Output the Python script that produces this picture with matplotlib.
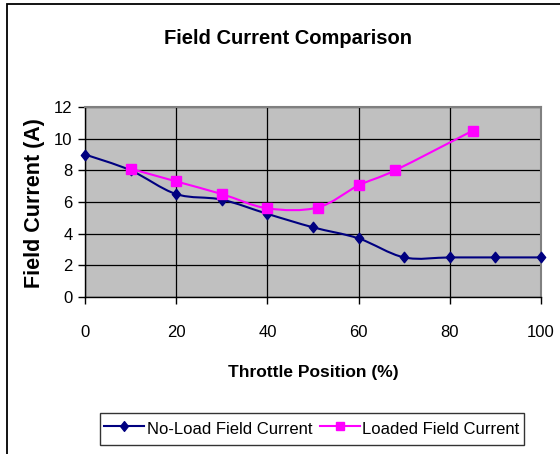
import numpy as np
import matplotlib
matplotlib.use("Agg")
import matplotlib.pyplot as plt
from matplotlib.path import Path
from matplotlib.patches import PathPatch, Rectangle
from matplotlib.lines import Line2D

plt.rcParams['font.family'] = ['Liberation Sans', 'DejaVu Sans']

# data
noload_x = [0, 10, 20, 30, 40, 50, 60, 70, 80, 90, 100]
noload_y = [9.0, 8.0, 6.5, 6.15, 5.25, 4.4, 3.7, 2.5, 2.5, 2.5, 2.5]
loaded_x = [10, 20, 30, 40, 51, 60, 68, 85]
loaded_y = [8.1, 7.3, 6.5, 5.6, 5.65, 7.05, 8.0, 10.5]

x_ticks = [0, 20, 40, 60, 80, 100]
y_ticks = [0, 2, 4, 6, 8, 10, 12]

NAVY = '#000080'
MAGENTA = '#FF00FF'

# excel's diamond looks a bit taller than wide here
DIAMOND = Path([(0, 1), (0.8, 0), (0, -1), (-0.8, 0), (0, 1)],
               [Path.MOVETO, Path.LINETO, Path.LINETO, Path.LINETO, Path.CLOSEPOLY])


def smooth_path(xs, ys):
    # catmull-rom through the points, like excel's "smoothed line"
    pts = np.column_stack([xs, ys]).astype(float)
    verts = [pts[0]]
    codes = [Path.MOVETO]
    n = len(pts)
    for i in range(n - 1):
        p0 = pts[i - 1] if i > 0 else pts[i]
        p1 = pts[i]
        p2 = pts[i + 1]
        p3 = pts[i + 2] if i + 2 < n else pts[i + 1]
        c1 = p1 + (p2 - p0) / 6.0
        c2 = p2 - (p3 - p1) / 6.0
        verts += [c1, c2, p2]
        codes += [Path.CURVE4] * 3
    return Path(verts, codes)


fig = plt.figure(figsize=(5.6, 4.54), dpi=100)
ax = fig.add_axes([85 / 560, 1 - 297 / 454, 456 / 560, 190 / 454])
ax.set_facecolor('#C0C0C0')

# outer chart border (only left and top visible in the crop)
fig.patches.append(Rectangle((7 / 560, -0.1), 1.2, 1.1 - 4.5 / 454, transform=fig.transFigure,
                             fill=False, edgecolor='black', linewidth=1.3))

ax.set_xlim(0, 100)
ax.set_ylim(0, 12)
ax.set_xticks(x_ticks)
ax.set_yticks(y_ticks)
ax.grid(True, color='black', linewidth=0.9)
ax.set_axisbelow(True)
for side in ['top', 'right']:
    ax.spines[side].set_color('#808080')
    ax.spines[side].set_linewidth(1.5)
for side in ['left', 'bottom']:
    ax.spines[side].set_color('black')
    ax.spines[side].set_linewidth(1.0)
ax.tick_params(axis='both', direction='out', length=5, width=1.0, labelsize=12)
ax.tick_params(axis='x', pad=15)
ax.tick_params(axis='y', pad=4)

ax.add_patch(PathPatch(smooth_path(noload_x, noload_y), fill=False, edgecolor=NAVY,
                       linewidth=1.5, zorder=3, clip_on=False))
ax.plot(noload_x, noload_y, linestyle='none', marker=DIAMOND, markersize=7.5, color=NAVY,
        zorder=4, clip_on=False)
ax.add_patch(PathPatch(smooth_path(loaded_x, loaded_y), fill=False, edgecolor=MAGENTA,
                       linewidth=1.5, zorder=3, clip_on=False))
ax.plot(loaded_x, loaded_y, linestyle='none', marker='s', markersize=6.5, color=MAGENTA,
        zorder=4, clip_on=False)

fig.text(288 / 560, 1 - 38 / 454, 'Field Current Comparison', ha='center', va='center',
         fontsize=14.5, fontweight='bold')
fig.text(313 / 560, 1 - 372 / 454, 'Throttle Position (%)', ha='center', va='center',
         fontsize=12.5, fontweight='bold')
fig.text(35 / 560, 1 - 203 / 454, 'Field Current (A)', ha='center', va='center',
         rotation=90, fontsize=15.5, fontweight='bold')

handles = [
    Line2D([], [], color=NAVY, marker=DIAMOND, markersize=7, linewidth=1.5),
    Line2D([], [], color=MAGENTA, marker='s', markersize=6, linewidth=1.5),
]
leg = fig.legend(handles, ['No-Load Field Current', 'Loaded Field Current'], ncol=2,
                 loc='center', bbox_to_anchor=(312 / 560, 1 - 429 / 454), fontsize=12,
                 frameon=True, fancybox=False, edgecolor='black', handlelength=2.4,
                 handleheight=1.75, handletextpad=0.15, columnspacing=0.45, borderpad=0.27)
leg.get_frame().set_linewidth(1.0)

fig.savefig('out.png', dpi=100)
